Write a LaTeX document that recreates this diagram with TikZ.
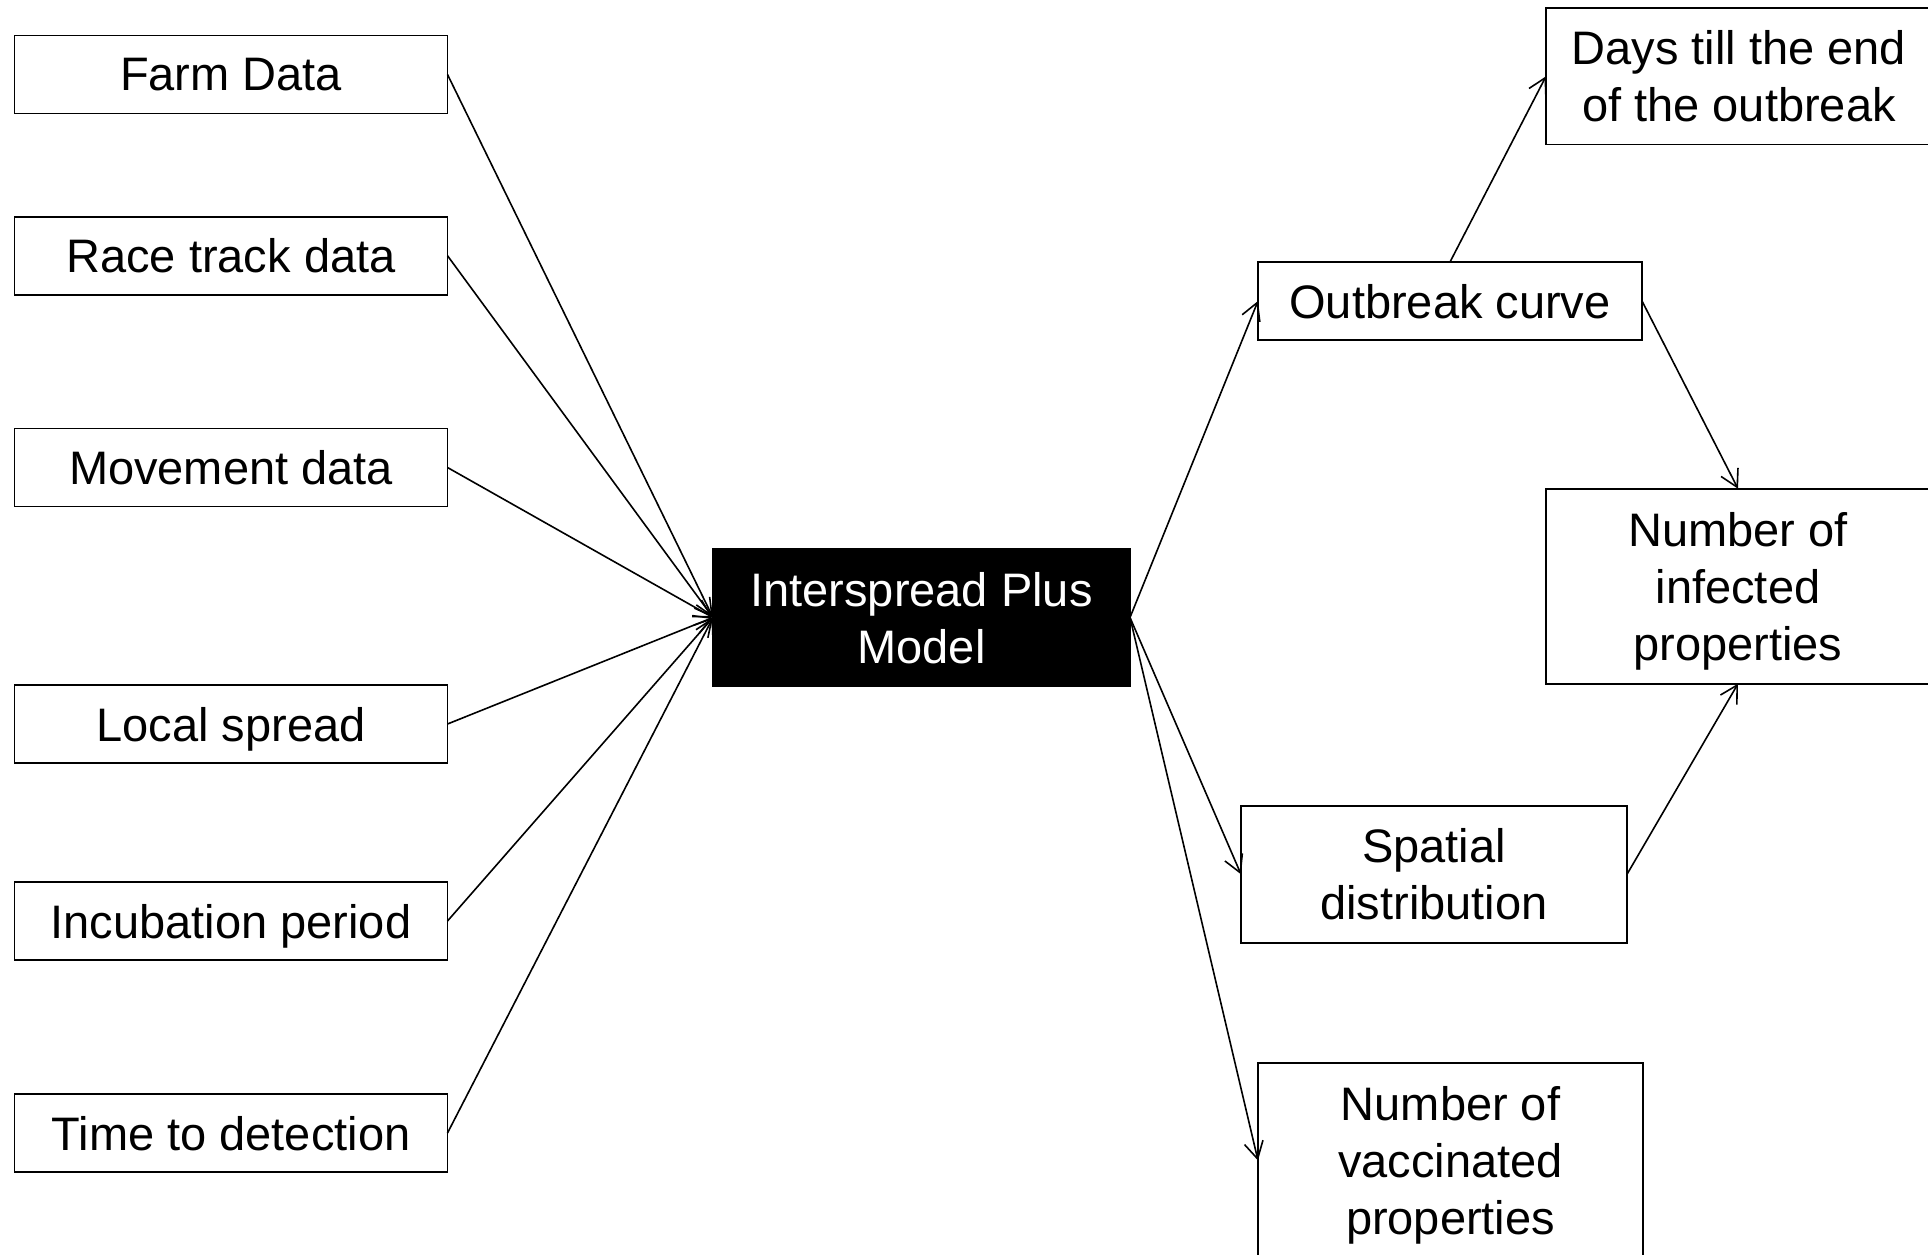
\documentclass[tikz,border=0pt]{standalone}
\usepackage{fontspec}
\setmainfont{Liberation Sans}
\usetikzlibrary{arrows.meta}
\begin{document}
\begin{tikzpicture}[x=1pt,y=-1pt,
  box/.style={draw=black,line width=1.6pt,fill=white,inner sep=0pt,outer sep=0pt,
    align=center,text depth=0pt,font=\fontsize{47}{57}\selectfont},
  inbox/.style={box,minimum width=433pt,minimum height=78pt},
  modelbox/.style={box,fill=black,draw=black,text=white,minimum width=417pt,minimum height=137pt},
  arr/.style={line width=1.6pt,-{Straight Barb[length=17pt,width=19pt,line width=1.6pt]}}]
\useasboundingbox[fill=white] (0,0) rectangle (1928,1255);
% inputs
\node[inbox] (farm) at (231,74.5) {Farm Data};
\node[inbox] (race) at (231,255.7) {Race track data};
\node[inbox] (move) at (231,467.5) {Movement data};
\node[inbox] (local) at (231,724) {Local spread};
\node[inbox] (incub) at (231,921) {Incubation period};
\node[inbox] (detect) at (231,1133) {Time to detection};
% model
\node[modelbox] (model) at (921.5,617.5) {Interspread Plus\\Model};
% outputs
\node[box,minimum width=384pt,minimum height=78pt] (outb) at (1450,301) {Outbreak curve};
\node[box,minimum width=386pt,minimum height=136pt] (days) at (1739,76.3) {Days till the end\\of the outbreak};
\node[box,minimum width=384pt,minimum height=195pt] (inf) at (1738,586.2) {Number of\\infected\\properties};
\node[box,minimum width=386pt,minimum height=137pt] (spat) at (1434,874.3) {Spatial\\distribution};
\node[box,minimum width=385pt,minimum height=195pt] (vacc) at (1450.5,1160.5) {Number of\\vaccinated\\properties};
% connectors in
\foreach \n in {farm,race,move,local,incub,detect}
  \draw[arr] (\n.east) -- (model.west);
% connectors out
\draw[arr] (model.east) -- (outb.west);
\draw[arr] (model.east) -- (spat.west);
\draw[arr] (model.east) -- (vacc.west);
\draw[arr] (outb.north) -- (days.west);
\draw[arr] (outb.east) -- (inf.north);
\draw[arr] (spat.east) -- (inf.south);
\end{tikzpicture}
\end{document}
